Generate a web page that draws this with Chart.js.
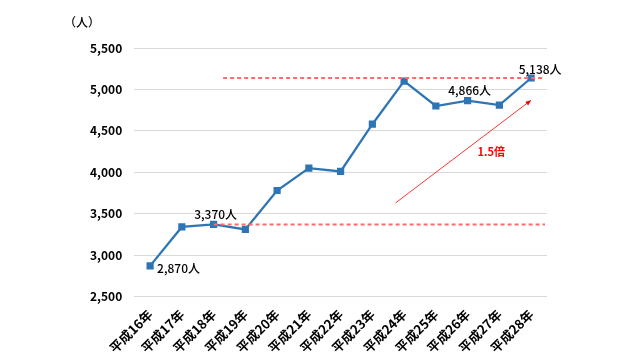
<!DOCTYPE html>
<html>
<head>
<meta charset="utf-8">
<script src="https://cdn.jsdelivr.net/npm/chart.js@4/dist/chart.umd.min.js"></script>
<style>
html,body{margin:0;padding:0;background:#fff;}
#wrap{width:640px;height:360px;position:relative;}
</style>
</head>
<body>
<div id="wrap"><canvas id="c" width="640" height="360"></canvas></div>
<script>
const categories = ['平成16年','平成17年','平成18年','平成19年','平成20年','平成21年','平成22年','平成23年','平成24年','平成25年','平成26年','平成27年','平成28年'];
const values = [2870, 3340, 3370, 3310, 3780, 4050, 4010, 4580, 5100, 4800, 4866, 4810, 5138];
const yTicks = [2500, 3000, 3500, 4000, 4500, 5000, 5500];
const labelledIndex = [0, 2, 10, 12];
const refLineValues = [3370, 5138];
const unitLabel = '（人）';
const ratioLabel = '1.5倍';
const arrowFrom = [7.73, 3630];
const arrowTo = [12, 4870];

const FONT = '"Noto Sans CJK JP", "Noto Sans", sans-serif';

const annot = {
  id: 'annot',
  afterDatasetsDraw(chart) {
    const ctx = chart.ctx;
    const xs = chart.scales.x, ys = chart.scales.y;
    const ca = chart.chartArea;
    ctx.save();
    // reference dashed lines
    ctx.strokeStyle = '#FF6B6B';
    ctx.lineWidth = 2;
    ctx.setLineDash([4, 3]);
    const starts = [2, 2.3];
    refLineValues.forEach((v, i) => {
      const y = ys.getPixelForValue(v);
      ctx.beginPath();
      ctx.moveTo(xs.getPixelForValue(starts[i]), y);
      ctx.lineTo(ca.right - 2, y);
      ctx.stroke();
    });
    ctx.setLineDash([]);
    // arrow
    const x1 = xs.getPixelForValue(arrowFrom[0]), y1 = ys.getPixelForValue(arrowFrom[1]);
    const x2 = xs.getPixelForValue(arrowTo[0]), y2 = ys.getPixelForValue(arrowTo[1]);
    ctx.strokeStyle = '#FF0000';
    ctx.fillStyle = '#FF0000';
    ctx.lineWidth = 0.8;
    ctx.beginPath(); ctx.moveTo(x1, y1); ctx.lineTo(x2, y2); ctx.stroke();
    const ang = Math.atan2(y2 - y1, x2 - x1);
    ctx.beginPath();
    ctx.moveTo(x2, y2);
    ctx.lineTo(x2 - 6 * Math.cos(ang - 0.4), y2 - 6 * Math.sin(ang - 0.4));
    ctx.lineTo(x2 - 6 * Math.cos(ang + 0.4), y2 - 6 * Math.sin(ang + 0.4));
    ctx.closePath(); ctx.fill();
    ctx.font = 'bold 11px ' + FONT;
    ctx.textAlign = 'center'; ctx.textBaseline = 'middle';
    ctx.fillText(ratioLabel, (x1 + x2) / 2 + 28, (y1 + y2) / 2);
    // data labels
    ctx.fillStyle = '#000';
    ctx.font = '500 12px ' + FONT;
    const meta = chart.getDatasetMeta(0);
    labelledIndex.forEach(i => {
      const p = meta.data[i];
      const txt = values[i].toLocaleString('en-US') + '人';
      if (i === 0) {
        ctx.textAlign = 'left'; ctx.textBaseline = 'middle';
        ctx.fillText(txt, p.x + 7, p.y + 3);
      } else if (i === labelledIndex[labelledIndex.length - 1]) {
        ctx.textAlign = 'center'; ctx.textBaseline = 'bottom';
        ctx.fillText(txt, p.x + 9, p.y - 3);
      } else {
        ctx.textAlign = 'center'; ctx.textBaseline = 'bottom';
        ctx.fillText(txt, p.x + 2, p.y - 4);
      }
    });
    // unit
    ctx.textAlign = 'left'; ctx.textBaseline = 'middle';
    ctx.font = '500 12px ' + FONT;
    ctx.fillText(unitLabel, 64, 22);
    ctx.restore();
  }
};

new Chart(document.getElementById('c'), {
  type: 'line',
  data: {
    labels: categories,
    datasets: [{
      data: values,
      borderColor: '#2E75B6',
      backgroundColor: '#2E75B6',
      borderWidth: 2.25,
      pointStyle: 'rect',
      pointRadius: 3.5,
      pointHoverRadius: 3.5,
      tension: 0
    }]
  },
  options: {
    responsive: false,
    animation: false,
    events: [],
    layout: { padding: { left: 78, right: 93, top: 48, bottom: 2 } },
    plugins: { legend: { display: false }, tooltip: { enabled: false } },
    scales: {
      x: {
        offset: true,
        grid: { display: false },
        border: { display: false },
        ticks: {
          color: '#000',
          font: { family: FONT, size: 13, weight: 'bold' },
          maxRotation: 45, minRotation: 45, autoSkip: false, padding: 2
        }
      },
      y: {
        min: 2500, max: 5500,
        afterBuildTicks(s) { s.ticks = yTicks.map(v => ({ value: v })); },
        grid: { color: '#D9D9D9', drawTicks: false },
        border: { display: false },
        ticks: {
          color: '#000',
          font: { family: FONT, size: 12, weight: 'bold' },
          padding: 12,
          callback: v => v.toLocaleString('en-US')
        }
      }
    }
  },
  plugins: [annot]
});
</script>
</body>
</html>
